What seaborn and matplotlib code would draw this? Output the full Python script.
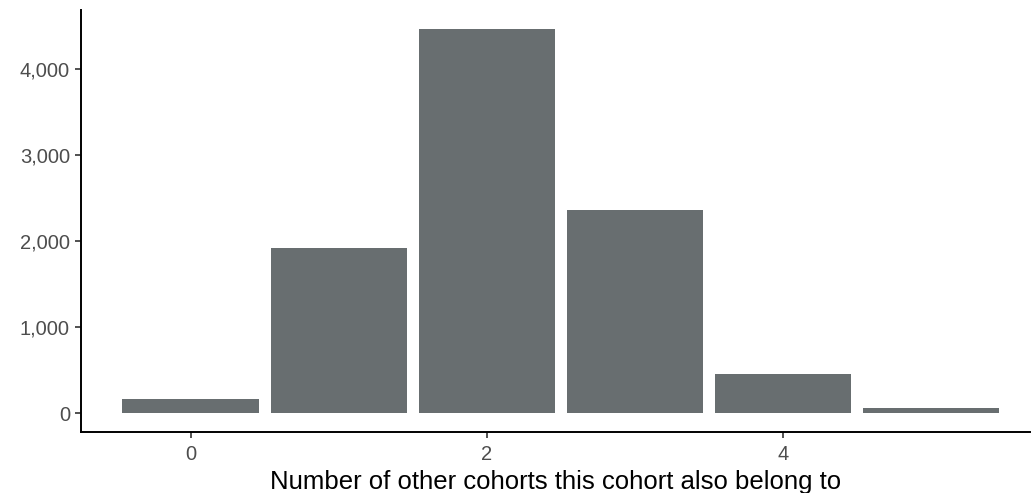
import pandas as pd
import matplotlib.pyplot as plt
import seaborn as sns

# Counts per number of other cohorts
n_other = [0, 1, 2, 3, 4, 5]
counts = [162, 1912, 4462, 2362, 455, 58]
x_ticks = [0, 2, 4]
y_ticks = [0, 1000, 2000, 3000, 4000]

df = pd.DataFrame({"n_other": n_other, "count": counts})

sns.set_style("white")
plt.rcParams['font.family'] = ['Liberation Sans', 'DejaVu Sans']

fig = plt.figure(figsize=(10.35, 4.93), dpi=100)
ax = fig.add_axes([0.0783, 0.1237, 0.9167, 0.856])

sns.barplot(data=df, x="n_other", y="count", color="#686e70", saturation=1,
            width=0.92, linewidth=0, ax=ax)

ax.set_xlim(-0.74, 5.67)
ax.set_ylim(-220, 4680)
ax.set_xticks(x_ticks)
ax.set_xticklabels([str(t) for t in x_ticks])
ax.set_yticks(y_ticks)
ax.set_yticklabels([f"{t:,}" for t in y_ticks])

for side in ["top", "right"]:
    ax.spines[side].set_visible(False)
for side in ["left", "bottom"]:
    ax.spines[side].set_color("black")
    ax.spines[side].set_linewidth(1.4)

ax.tick_params(axis="both", length=4, width=1.2, color="#333333",
               labelcolor="#4d4d4d", labelsize=14.5, pad=4, left=True, bottom=True)
ax.tick_params(axis="x", pad=5)
ax.set_xlabel("Number of other cohorts this cohort also belong to", fontsize=18.5,
              color="black", labelpad=5)
ax.set_ylabel("")

fig.savefig("out.png", dpi=100)
